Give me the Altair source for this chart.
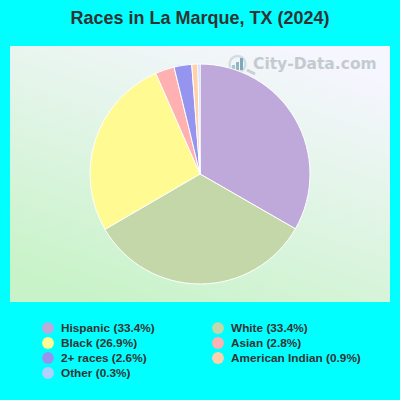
import altair as alt
import pandas as pd

labels = ["Hispanic (33.4%)", "White (33.4%)", "Black (26.9%)", "Asian (2.8%)",
          "2+ races (2.6%)", "American Indian (0.9%)", "Other (0.3%)"]
shares = [33.4, 33.4, 26.9, 2.8, 2.6, 0.9, 0.3]
order_slices = [1, 2, 3, 4, 5, 6, 7]
legend_order = ["Hispanic (33.4%)", "Black (26.9%)", "2+ races (2.6%)", "Other (0.3%)",
                "White (33.4%)", "Asian (2.8%)", "American Indian (0.9%)"]
colors = ["#bfa8da", "#fffb92", "#9595ef", "#b0d0ff", "#c4d7a8", "#ffb0b0", "#ffd0aa"]
title_text = "Races in La Marque, TX (2024)"
watermark = "City-Data.com"

df = pd.DataFrame({"label": labels, "share": shares, "ord": order_slices})

W, H = 380, 256
one = pd.DataFrame({"a": [0]})

panel = alt.Chart(one).mark_rect(
    color=alt.LinearGradient(
        gradient="linear", x1=0.25, y1=1, x2=0.75, y2=0,
        stops=[alt.GradientStop(color="#c8f3c8", offset=0),
               alt.GradientStop(color="#f6f6ff", offset=1)],
    )
).encode(x=alt.value(0), x2=alt.value(W), y=alt.value(0), y2=alt.value(H))

pie = alt.Chart(df).mark_arc(outerRadius=110, stroke="white", strokeWidth=1).encode(
    x=alt.value(190),
    y=alt.value(128),
    theta=alt.Theta("share:Q", stack=True),
    order=alt.Order("ord:Q"),
    color=alt.Color(
        "label:N",
        scale=alt.Scale(domain=legend_order, range=colors),
        legend=alt.Legend(
            title=None, orient="none", legendX=32, legendY=276,
            columns=2, columnPadding=57, rowPadding=2,
            symbolType="circle", symbolSize=140, symbolStrokeWidth=0,
            symbolOpacity=1, labelFont="Liberation Sans", labelFontSize=11.8,
            labelFontWeight="bold", labelColor="#333333", labelOffset=7,
            labelLimit=200, gridAlign="each",
        ),
    ),
)

mark_text = alt.Chart(pd.DataFrame({"t": [watermark]})).mark_text(
    font="DejaVu Sans", fontSize=15.5, fontWeight="bold", color="#c3cbce", align="left", baseline="middle",
).encode(x=alt.value(243), y=alt.value(18), text="t:N")

lens = alt.Chart(one).mark_point(
    shape="circle", size=254, stroke="#c6d2d4", strokeWidth=2.5, fill=None, filled=False,
).encode(x=alt.value(227.5), y=alt.value(18))

handle = alt.Chart(one).mark_rule(color="#c6d2d4", strokeWidth=3).encode(
    x=alt.value(237), x2=alt.value(245), y=alt.value(24), y2=alt.value(28))

bar1 = alt.Chart(one).mark_rule(color="#a9c6ce", strokeWidth=3).encode(
    x=alt.value(223.5), y=alt.value(19), y2=alt.value(24))
bar2 = alt.Chart(one).mark_rule(color="#8fb6c2", strokeWidth=3).encode(
    x=alt.value(227.5), y=alt.value(16), y2=alt.value(24))
bar3 = alt.Chart(one).mark_rule(color="#7fa9b8", strokeWidth=3).encode(
    x=alt.value(231.5), y=alt.value(12), y2=alt.value(24))

chart = alt.layer(panel, lens, handle, bar1, bar2, bar3, mark_text, pie).properties(
    width=W, height=H,
    background="#00ffff",
    padding={"left": 10, "top": 46, "right": 10, "bottom": 98},
    autosize=alt.AutoSizeParams(type="none"),
    title=alt.TitleParams(title_text, font="Liberation Sans", fontSize=18, fontWeight="bold",
                          color="#333333", anchor="middle", offset=18),
).configure_view(stroke=None)

chart.save("out.html", embed_options={"renderer": "svg", "actions": False,
                                      "defaultStyle": "html,body{margin:0;background:#00ffff;overflow:hidden}"})
